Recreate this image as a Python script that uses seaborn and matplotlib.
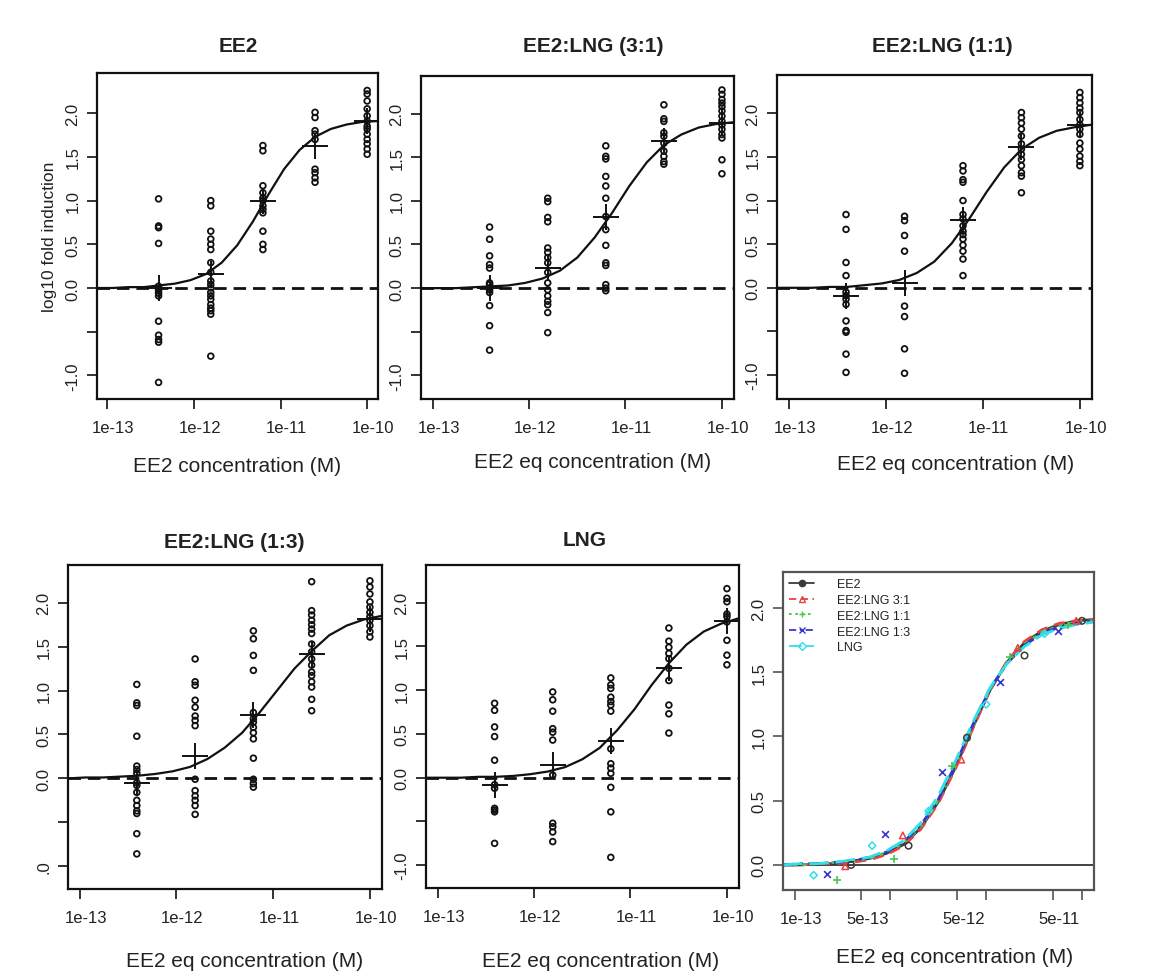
import numpy as np
import pandas as pd
import matplotlib
matplotlib.use("Agg")
import matplotlib.pyplot as plt
import seaborn as sns
from matplotlib.lines import Line2D
from matplotlib.transforms import ScaledTranslation

# ---------------- data ----------------
conc = [3.9e-13, 1.5625e-12, 6.25e-12, 2.5e-11, 1e-10]

ee2_obs = [
    [1.02, 0.71, 0.69, 0.51, 0.02, -0.01, -0.03, -0.06, -0.09, -0.38, -0.54, -0.59, -0.62, -1.08],
    [1.00, 0.94, 0.65, 0.56, 0.50, 0.44, 0.29, 0.18, 0.08, 0.04, 0.00, -0.05, -0.09, -0.13, -0.19, -0.23, -0.26, -0.30, -0.78],
    [1.63, 1.57, 1.17, 1.09, 1.03, 1.00, 0.94, 0.90, 0.86, 0.65, 0.50, 0.44],
    [2.01, 1.95, 1.80, 1.76, 1.70, 1.36, 1.32, 1.26, 1.21],
    [2.26, 2.22, 2.14, 2.05, 1.97, 1.91, 1.85, 1.82, 1.76, 1.70, 1.65, 1.59, 1.53],
]
mix31_obs = [
    [0.70, 0.56, 0.37, 0.27, 0.23, 0.06, 0.04, 0.00, -0.02, -0.05, -0.20, -0.43, -0.71],
    [1.03, 0.99, 0.81, 0.76, 0.46, 0.41, 0.35, 0.29, 0.18, 0.06, -0.02, -0.09, -0.15, -0.19, -0.28, -0.51],
    [1.63, 1.51, 1.48, 1.28, 1.17, 1.03, 0.82, 0.67, 0.49, 0.29, 0.26, 0.04, 0.00, -0.03],
    [2.10, 1.94, 1.91, 1.78, 1.74, 1.66, 1.57, 1.51, 1.45, 1.42],
    [2.27, 2.22, 2.16, 2.12, 2.08, 2.03, 1.97, 1.91, 1.87, 1.82, 1.76, 1.72, 1.47, 1.31],
]
mix11_obs = [
    [0.84, 0.67, 0.29, 0.14, -0.05, -0.09, -0.13, -0.19, -0.38, -0.49, -0.51, -0.76, -0.97],
    [0.82, 0.77, 0.60, 0.42, -0.21, -0.33, -0.70, -0.98],
    [1.40, 1.34, 1.24, 1.21, 1.00, 0.84, 0.79, 0.71, 0.65, 0.61, 0.56, 0.49, 0.42, 0.33, 0.14],
    [2.01, 1.95, 1.89, 1.82, 1.74, 1.65, 1.59, 1.53, 1.47, 1.40, 1.32, 1.28, 1.09],
    [2.24, 2.18, 2.12, 2.06, 2.01, 1.93, 1.87, 1.82, 1.76, 1.66, 1.59, 1.51, 1.45, 1.40],
]
mix13_obs = [
    [1.07, 0.86, 0.83, 0.48, 0.14, 0.10, 0.06, -0.05, -0.08, -0.16, -0.25, -0.31, -0.37, -0.40, -0.63, -0.86],
    [1.36, 1.10, 1.06, 0.89, 0.81, 0.71, 0.66, 0.60, -0.01, -0.14, -0.20, -0.25, -0.31, -0.41],
    [1.68, 1.59, 1.40, 1.23, 0.75, 0.68, 0.64, 0.58, 0.52, 0.45, 0.23, -0.01, -0.06, -0.10],
    [2.24, 1.91, 1.86, 1.80, 1.75, 1.70, 1.65, 1.53, 1.44, 1.36, 1.29, 1.21, 1.17, 1.10, 1.04, 0.90, 0.77],
    [2.25, 2.18, 2.10, 2.01, 1.95, 1.89, 1.84, 1.80, 1.74, 1.67, 1.61],
]
lng_obs = [
    [0.85, 0.77, 0.58, 0.47, 0.20, -0.08, -0.12, -0.35, -0.37, -0.39, -0.75],
    [0.98, 0.89, 0.76, 0.56, 0.52, 0.43, 0.03, -0.52, -0.56, -0.62, -0.73],
    [1.14, 1.06, 1.02, 0.92, 0.87, 0.83, 0.76, 0.33, 0.16, 0.11, 0.05, -0.11, -0.39, -0.91],
    [1.71, 1.56, 1.49, 1.42, 1.36, 1.25, 1.11, 0.83, 0.73, 0.51],
    [2.16, 2.05, 2.01, 1.87, 1.84, 1.78, 1.57, 1.40, 1.29],
]

# means ("+") per concentration
ee2_mean = [0.00, 0.16, 1.00, 1.62, 1.91]
mix31_mean = [0.00, 0.23, 0.82, 1.68, 1.89]
mix11_mean = [-0.09, 0.05, 0.78, 1.61, 1.87]
mix13_mean = [-0.05, 0.25, 0.72, 1.42, 1.82]
lng_mean = [-0.08, 0.14, 0.42, 1.25, 1.79]

# fitted curves read at these log10 concentrations
curve_logx = [-13.12, -12.94, -12.76, -12.58, -12.40, -12.22, -12.04, -11.86, -11.68, -11.50,
              -11.32, -11.14, -10.96, -10.78, -10.60, -10.42, -10.24, -10.06, -9.88]
ee2_fit = [0.00, 0.00, 0.01, 0.01, 0.03, 0.05, 0.09, 0.16, 0.29, 0.49, 0.76, 1.07, 1.36, 1.58, 1.73, 1.82, 1.87, 1.90, 1.91]
mix31_fit = [0.00, 0.00, 0.00, 0.01, 0.02, 0.03, 0.06, 0.11, 0.20, 0.35, 0.58, 0.86, 1.17, 1.44, 1.64, 1.76, 1.84, 1.88, 1.90]
mix11_fit = [0.00, 0.00, 0.00, 0.01, 0.01, 0.03, 0.05, 0.09, 0.17, 0.30, 0.51, 0.79, 1.10, 1.38, 1.59, 1.72, 1.80, 1.84, 1.87]
mix13_fit = [0.00, 0.01, 0.01, 0.02, 0.03, 0.05, 0.08, 0.13, 0.22, 0.35, 0.52, 0.75, 1.00, 1.25, 1.45, 1.63, 1.74, 1.81, 1.85]
lng_fit = [0.00, 0.00, 0.00, 0.01, 0.01, 0.02, 0.04, 0.07, 0.12, 0.21, 0.34, 0.54, 0.78, 1.06, 1.31, 1.52, 1.67, 1.76, 1.82]

# pooled panel: curves on EE2-equivalent scale
pool_fit = {
    "EE2": ee2_fit,
    "EE2:LNG 3:1": [0.00, 0.00, 0.01, 0.01, 0.02, 0.04, 0.08, 0.15, 0.28, 0.48, 0.75, 1.06, 1.36, 1.59, 1.74, 1.83, 1.88, 1.90, 1.91],
    "EE2:LNG 1:1": [0.00, 0.00, 0.01, 0.02, 0.03, 0.05, 0.10, 0.17, 0.30, 0.50, 0.77, 1.08, 1.37, 1.58, 1.72, 1.81, 1.86, 1.89, 1.90],
    "EE2:LNG 1:3": [0.00, 0.01, 0.01, 0.02, 0.03, 0.06, 0.10, 0.18, 0.31, 0.51, 0.78, 1.09, 1.37, 1.57, 1.71, 1.80, 1.85, 1.88, 1.90],
    "LNG": [0.00, 0.01, 0.01, 0.02, 0.04, 0.06, 0.11, 0.19, 0.33, 0.54, 0.81, 1.11, 1.38, 1.57, 1.70, 1.79, 1.84, 1.87, 1.89],
}
pool_logx = {
    "EE2": [-12.41, -11.81, -11.20, -10.60, -10.00],
    "EE2:LNG 3:1": [-12.47, -11.87, -11.26, -10.67, -10.06],
    "EE2:LNG 1:1": [-12.56, -11.96, -11.36, -10.75, -10.15],
    "EE2:LNG 1:3": [-12.66, -12.06, -11.46, -10.86, -10.25],
    "LNG": [-12.80, -12.19, -11.60, -11.00, -10.39],
}
pool_y = {
    "EE2": [0.00, 0.15, 0.99, 1.63, 1.90],
    "EE2:LNG 3:1": [-0.01, 0.23, 0.82, 1.69, 1.90],
    "EE2:LNG 1:1": [-0.12, 0.05, 0.77, 1.62, 1.87],
    "EE2:LNG 1:3": [-0.07, 0.24, 0.72, 1.42, 1.82],
    "LNG": [-0.08, 0.15, 0.42, 1.25, 1.80],
}

titles = ["EE2", "EE2:LNG (3:1)", "EE2:LNG (1:1)", "EE2:LNG (1:3)", "LNG"]
xlabels = ["EE2 concentration (M)"] + ["EE2 eq concentration (M)"] * 5
ytick_vals = [-1.0, -0.5, 0.0, 0.5, 1.0, 1.5, 2.0]
ytick_txt = ["-1.0", "", "0.0", "0.5", "1.0", "1.5", "2.0"]
ytick_txt_p4 = [".0", "", "0.0", "0.5", "1.0", "1.5", "2.0"]
xtick_vals = [1e-13, 1e-12, 1e-11, 1e-10]
xtick_txt = ["1e-13", "1e-12", "1e-11", "1e-10"]
pool_xtick_vals = [1e-13, 5e-13, 1e-12, 5e-12, 1e-11, 5e-11, 1e-10]
pool_xtick_txt = ["1e-13", "5e-13", "", "5e-12", "", "5e-11", ""]

# ---------------- styling ----------------
sns.set_theme(style="ticks")
plt.rcParams['font.family'] = ['Liberation Sans', 'DejaVu Sans']
TXT = "#222222"
INK = "#111111"
pool_style = {
    "EE2": dict(color="#3a3a3a", ls="-", marker="o", filled=False, s=22),
    "EE2:LNG 3:1": dict(color="#e8413f", ls=(0, (4, 2.5)), marker="^", filled=False, s=22),
    "EE2:LNG 1:1": dict(color="#4cc44c", ls=(0, (1.5, 2)), marker="+", filled=True, s=30),
    "EE2:LNG 1:3": dict(color="#3535d0", ls=(0, (4, 2, 1.2, 2)), marker="x", filled=True, s=24),
    "LNG": dict(color="#2fe0e8", ls=(0, (7, 2.5)), marker="D", filled=False, s=14),
}

W, H = 1176, 979
fig = plt.figure(figsize=(11.76, 9.79), dpi=100)
fig.patch.set_facecolor("white")


def add_ax(x0, x1, y0, y1):
    return fig.add_axes([x0 / W, 1 - y1 / H, (x1 - x0) / W, (y1 - y0) / H])


def ftext(xp, yp, s, **kw):
    fig.text(xp / W, 1 - yp / H, s, ha="center", va="center", color=TXT, **kw)


xlim = (10 ** -13.12, 10 ** -9.875)
xshift = ScaledTranslation(6 / 100, 0, fig.dpi_scale_trans)


def style_axes(ax, spine_color=INK):
    for sp in ax.spines.values():
        sp.set_visible(True)
        sp.set_linewidth(1.6)
        sp.set_color(spine_color)
    ax.tick_params(axis="both", length=7, width=1.2, color=spine_color, labelsize=12,
                   labelcolor=TXT, direction="out")
    ax.tick_params(axis="x", pad=8)
    ax.tick_params(axis="y", pad=5)
    ax.set_facecolor("white")
    ax.grid(False)


# panel geometry (px): left, right, top, bottom ; ylim ; title centre ; xlabel centre
layout = [
    dict(box=(97, 378, 74, 400), ylim=(-1.27, 2.46), t=(238, 46), xl=(237, 467)),
    dict(box=(421, 734, 77, 400), ylim=(-1.27, 2.43), t=(593, 47), xl=(593, 463)),
    dict(box=(777, 1092, 76, 400), ylim=(-1.275, 2.44), t=(942, 47), xl=(956, 465)),
    dict(box=(68, 382, 566, 890), ylim=(-1.26, 2.43), t=(234, 542), xl=(245, 962)),
    dict(box=(426, 739, 566, 889), ylim=(-1.26, 2.43), t=(585, 541), xl=(601, 962)),
]
obs_all = [ee2_obs, mix31_obs, mix11_obs, mix13_obs, lng_obs]
mean_all = [ee2_mean, mix31_mean, mix11_mean, mix13_mean, lng_mean]
fit_all = [ee2_fit, mix31_fit, mix11_fit, mix13_fit, lng_fit]
curve_x = 10 ** np.array(curve_logx)

for i in range(5):
    L = layout[i]
    ax = add_ax(*L["box"])
    ax.set_xscale("log")
    df = pd.DataFrame({
        "conc": np.repeat(conc, [len(o) for o in obs_all[i]]),
        "y": np.concatenate([np.array(o, dtype=float) for o in obs_all[i]]),
    })
    ax.axhline(0, color=INK, lw=2.0, dashes=(4.5, 2.5), zorder=1)
    sns.lineplot(x=curve_x, y=fit_all[i], ax=ax, color=INK, lw=1.6, sort=False,
                 estimator=None, zorder=2)
    sns.scatterplot(data=df, x="conc", y="y", ax=ax, marker="o", s=17,
                    facecolor="none", edgecolor=INK, linewidth=1.3, zorder=3)
    sns.scatterplot(x=conc, y=mean_all[i], ax=ax, marker="+", s=330, color=INK,
                    linewidth=1.4, zorder=4)
    ax.set_xlim(*xlim)
    ax.set_ylim(*L["ylim"])
    ax.minorticks_off()
    ax.set_xticks(xtick_vals)
    ax.set_xticklabels(xtick_txt)
    ax.set_yticks(ytick_vals)
    ax.set_yticklabels(ytick_txt_p4 if i == 3 else ytick_txt, rotation=90, va="center")
    ax.set_xlabel("")
    ax.set_ylabel("")
    style_axes(ax)
    for lab in ax.get_xticklabels():
        lab.set_transform(lab.get_transform() + xshift)
    ftext(*L["t"], titles[i], fontsize=15, fontweight="bold")
    ftext(*L["xl"], xlabels[i], fontsize=15)

ftext(50, 237, "log10 fold induction", fontsize=12.5, rotation=90)

# ---------------- pooled panel ----------------
ax6 = add_ax(783, 1094, 573, 891)
ax6.set_xscale("log")
ax6.axhline(0, color="#222222", lw=1.2, zorder=1)
handles = []
for name in ["EE2", "EE2:LNG 3:1", "EE2:LNG 1:1", "EE2:LNG 1:3", "LNG"]:
    st = pool_style[name]
    sns.lineplot(x=curve_x, y=pool_fit[name], ax=ax6, color=st["color"], lw=2.0,
                 linestyle=st["ls"], sort=False, estimator=None, zorder=2)
    px = 10 ** np.array(pool_logx[name])
    if st["filled"]:
        sns.scatterplot(x=px, y=pool_y[name], ax=ax6, marker=st["marker"], s=st["s"],
                        color=st["color"], linewidth=1.2, zorder=3)
    else:
        sns.scatterplot(x=px, y=pool_y[name], ax=ax6, marker=st["marker"], s=st["s"],
                        facecolor="none", edgecolor=st["color"], linewidth=1.1, zorder=3)
    handles.append(Line2D([0], [0], color=st["color"], lw=1.3, linestyle=st["ls"],
                          marker=st["marker"], markersize=4.5,
                          markerfacecolor=(st["color"] if st["filled"] or name == "EE2" else "none"),
                          markeredgecolor=st["color"], label=name))
ax6.set_xlim(*xlim)
ax6.set_ylim(-0.195, 2.28)
ax6.minorticks_off()
ax6.set_xticks(pool_xtick_vals)
ax6.set_xticklabels(pool_xtick_txt)
ax6.set_yticks([0.0, 0.5, 1.0, 1.5, 2.0])
ax6.set_yticklabels(["0.0", "0.5", "1.0", "1.5", "2.0"], rotation=90, va="center")
ax6.set_xlabel("")
ax6.set_ylabel("")
style_axes(ax6, spine_color="#555555")
for lab in ax6.get_xticklabels():
    lab.set_transform(lab.get_transform() + xshift)
leg = ax6.legend(handles=handles, loc="upper left", frameon=False, fontsize=9,
                 handlelength=2.0, handletextpad=1.8, labelspacing=0.3,
                 borderaxespad=0.2, borderpad=0.3)
for t in leg.get_texts():
    t.set_color(TXT)
ftext(955, 958, xlabels[5], fontsize=15)

fig.savefig("out.png", dpi=100, facecolor="white")
